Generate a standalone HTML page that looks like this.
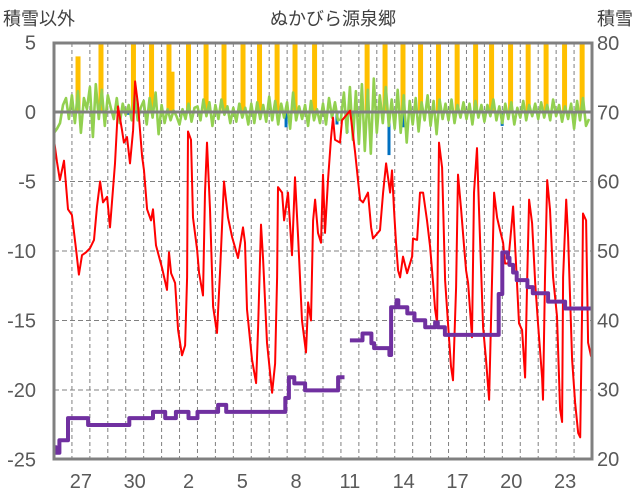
<!DOCTYPE html>
<html><head><meta charset="utf-8">
<style>
html,body{margin:0;padding:0;background:#fff;}
svg{display:block;font-family:"Liberation Sans","Noto Sans CJK JP",sans-serif;}
</style></head>
<body>
<svg id="chart" width="636" height="501" viewBox="0 0 636 501" xmlns="http://www.w3.org/2000/svg">
<text x="333" y="25" text-anchor="middle" font-size="18" fill="#404040">ぬかびら源泉郷</text>
<text x="3" y="25" font-size="18" fill="#404040">積雪以外</text>
<text x="633" y="25" text-anchor="end" font-size="18" fill="#404040">積雪</text>
<g id="grid"></g>
<g id="bars"></g>
<g id="lines"></g>
<g id="axes"></g>
</svg>
<script>
const leftTicks=[5,0,-5,-10,-15,-20,-25];
const rightTicks=[80,70,60,50,40,30,20];
const dayLabels=["27","30","2","5","8","11","14","17","20","23"];
const dayLabelPos=[1,4,7,10,13,16,19,22,25,28];
const redDay=[0,0.17,0.33,0.56,0.78,1.0,1.23,1.39,1.56,1.78,2.01,2.23,2.4,2.57,2.73,2.96,3.12,3.4,3.57,3.79,3.9,4.07,4.24,4.41,4.52,4.68,4.91,5.02,5.19,5.41,5.52,5.69,6.02,6.3,6.41,6.53,6.75,6.92,7.14,7.31,7.42,7.47,7.64,7.75,7.98,8.09,8.31,8.42,8.53,8.7,8.87,9.09,9.26,9.48,9.7,9.93,10.09,10.26,10.54,10.65,10.76,11.04,11.27,11.38,11.54,11.66,11.88,12.16,12.33,12.44,12.49,12.72,12.83,13.05,13.27,13.44,13.61,13.83,14.05,14.17,14.33,14.45,14.56,14.72,14.89,15.0,15.11,15.28,15.45,15.56,15.67,15.95,16.06,16.51,16.79,16.95,17.07,17.23,17.51,17.68,17.79,18.18,18.35,18.52,18.74,18.85,18.96,19.07,19.19,19.3,19.46,19.69,19.97,20.02,20.25,20.41,20.58,20.8,20.97,21.14,21.25,21.36,21.47,21.64,21.81,21.97,22.14,22.25,22.42,22.53,22.7,22.87,22.98,23.09,23.31,23.42,23.59,23.7,23.93,24.09,24.26,24.43,24.54,24.71,24.87,25.04,25.15,25.32,25.54,25.6,25.82,25.93,26.1,26.27,26.38,26.49,26.66,26.83,26.99,27.22,27.27,27.38,27.5,27.66,27.83,28.05,28.22,28.33,28.39,28.56,28.67,28.89,29.06,29.23,29.34,29.45,29.5,29.67,29.78,29.95];
const redVal=[-2.0,-3.6,-4.9,-3.5,-7.0,-7.4,-9.9,-11.7,-10.3,-10.1,-9.8,-9.2,-6.8,-5.0,-6.5,-6.1,-8.3,-3.7,0.4,-1.3,-2.2,-1.8,-3.7,-1.3,2.2,0.6,-3.2,-4.2,-7.0,-7.8,-7.0,-9.6,-11.2,-12.8,-10.1,-11.6,-12.3,-15.7,-17.5,-16.8,-11.9,-1.4,-2.0,-7.6,-9.9,-11.6,-13.2,-5.8,-2.2,-7.0,-14.0,-15.9,-11.4,-5.0,-7.6,-9.0,-9.7,-10.5,-8.3,-9.4,-14.2,-17.8,-19.5,-15.5,-8.1,-10.6,-16.6,-20.2,-18.1,-11.9,-5.4,-5.8,-7.8,-5.8,-10.3,-4.7,-9.0,-15.0,-17.3,-13.7,-15.0,-7.8,-6.3,-8.7,-9.4,-4.5,-8.7,-4.9,-1.8,-0.4,-2.0,-2.2,-0.6,0.1,-2.9,-4.9,-6.3,-6.5,-5.8,-8.3,-9.1,-8.5,-5.8,-3.7,-5.8,-4.2,-7.0,-9.4,-11.4,-11.9,-10.4,-11.6,-10.4,-9.1,-9.2,-5.8,-5.8,-7.8,-9.7,-12.3,-14.2,-15.2,-2.2,-4.0,-12.1,-15.2,-18.3,-19.3,-12.6,-4.5,-7.0,-9.7,-11.4,-12.3,-16.2,-5.8,-2.6,-7.0,-15.5,-17.8,-20.7,-11.9,-5.8,-7.6,-8.5,-9.4,-10.9,-10.9,-7.8,-6.8,-12.3,-15.2,-15.7,-19.1,-12.3,-6.3,-8.0,-12.3,-15.2,-19.1,-20.7,-11.9,-4.9,-7.0,-11.9,-14.7,-21.4,-22.3,-11.9,-6.3,-9.0,-17.8,-20.9,-23.1,-23.4,-14.2,-7.3,-7.8,-16.6,-17.6];
const greenVal=[-1.5,-1.2,-0.8,0.5,1.0,-0.5, 1.2,-0.8,1.5,-1.5,1.0,0.2, 1.8,-1.8,2.0,-0.5,1.6,-1.0, 1.2,0.3,-0.5,1.0,-0.8,0.6, -0.2,0.5,-0.6,1.2,-0.6,0.3, 0.8,-0.9,1.0,-0.4,1.4,-1.6, 0.5,-0.8,0.2,-0.6,0.1,-0.3, -0.9,0.2,-0.5,0.6,-0.7,0.3, 0.4,-0.6,0.9,-0.3,0.7,-1.0, 0.5,-0.5,0.9,-0.2,0.4,-0.8, 0.3,-0.7,0.6,-0.4,0.3,-0.9, 0.6,-0.8,0.7,-0.5,0.5,-0.7, 1.1,-0.6,0.8,-0.9,0.6,-0.4, 0.7,-1.2,1.4,-0.6,0.4,-0.5, 0.5,-1.0,0.8,-0.6,0.2,-0.8, 0.6,-0.9,1.0,-0.4,0.7,-0.6, -0.5,1.4,-1.5,1.8,-2.0,1.5, -2.3,2.0,-2.8,1.6,-3.0,2.4, -1.5,1.2,-0.8,1.8,-1.0,0.9, -1.2,1.6,-1.5,1.2,-2.2,0.8, -0.9,1.0,-1.4,0.7,-0.6,1.2, -1.0,0.8,-1.6,0.9,-0.5,0.6, -0.6,0.9,-0.8,0.5,-0.4,0.7, -0.5,0.6,-0.9,0.8,-0.4,0.5, -0.7,0.5,-0.3,0.9,-0.6,0.4, -0.8,0.6,-0.5,0.7,-0.9,0.3, -0.4,0.8,-0.6,0.5,-0.3,0.6, -0.5,0.7,-0.4,0.5,-0.6,0.9, -0.3,0.5,-0.7,0.4,-0.5,0.6, -1.2,0.8,-0.6,1.0,-1.0,-0.5];
const snowDay=[0,0.11,0.3,0.78,1.9,4.2,5.52,6.2,6.8,7.5,8.0,9.15,9.6,12.9,13.1,13.4,14.0,15.84,16.2,16.5,17.2,17.7,17.85,18.7,18.8,19.1,19.2,19.7,20.1,20.7,21.25,21.4,21.8,24.8,25.0,25.3,25.4,25.6,25.8,26.4,26.7,27.55,28.5,29.95];
const snowVal=[21.7,20.9,22.7,25.9,24.9,25.9,26.8,25.9,26.8,25.9,26.8,27.8,26.8,28.8,31.8,30.9,29.9,31.8,null,37.1,38.1,36.7,36.0,35.0,41.9,42.9,41.9,41.0,40.0,39.0,39.7,39.0,37.9,43.8,49.8,49.0,48.0,46.9,45.8,44.8,43.9,42.7,41.7,41.7];
const snowfallDay=[1.34,2.62,4.43,5.44,6.41,6.58,7.5,8.48,9.48,10.54,11.46,12.44,13.44,14.53,17.46,18.46,19.46,20.44,21.44,22.48,23.51,24.4,25.46,26.44,27.44,28.47,29.45];
const snowfallVal=[4.0,6,6,6,6,2.9,6,6,6,6,6,6,6,6,6,6,6,6,6,6,6,6,6,6,6,6,6];
const meltDay=[4.13,12.94,15.78,16.34,16.73,18.68,19.46,24.99];
const meltVal=[-0.2,-1.1,-0.9,-1.5,-0.5,-3.1,-1.1,-1.0];

const X0=54,X1=592,YT=43,YB=459;
function xOf(d){return X0+d*(X1-X0)/30;}
function yL(v){return 112-v*13.9;}
function yR(v){return YB-(v-20)*(YB-YT)/60;}
const NS="http://www.w3.org/2000/svg";
function mk(tag,attrs,parent){const e=document.createElementNS(NS,tag);for(const k in attrs)e.setAttribute(k,attrs[k]);parent.appendChild(e);return e;}
const grid=document.getElementById('grid'),bars=document.getElementById('bars'),lines=document.getElementById('lines'),axes=document.getElementById('axes');

for(let d=1;d<30;d++){
  const l=mk('line',{x1:xOf(d),x2:xOf(d),y1:YT,y2:YB,stroke:'#808080','stroke-width':1,'stroke-dasharray':'4,3'},grid);
  
  
}
leftTicks.forEach(v=>{
  if(v===5||v===-25||v===0)return;
  const l=mk('line',{x1:X0,x2:X1,y1:yL(v),y2:yL(v),stroke:'#808080','stroke-width':1,'stroke-dasharray':'5,3'},grid);
  
  
});

const bw=5;
snowfallDay.forEach((d,i)=>{
  const v=Math.min(snowfallVal[i],5);
  const r=mk('rect',{x:xOf(d)-bw/2,y:yL(v),width:bw,height:yL(0)-yL(v),fill:'#FFC000'},bars);
  
  
});
meltDay.forEach((d,i)=>{
  const r=mk('rect',{x:xOf(d)-1.5,y:yL(0),width:3,height:yL(meltVal[i])-yL(0),fill:'#0070C0'},bars);
  
  
});

let gp='';
greenVal.forEach((v,i)=>{gp+=(i?'L':'M')+xOf(i*30/greenVal.length).toFixed(1)+','+yL(v).toFixed(1);});
const g=mk('path',{d:gp,fill:'none',stroke:'#92D050','stroke-width':2.6,'stroke-linejoin':'round'},lines);



const z=mk('line',{x1:X0,x2:X1,y1:yL(0),y2:yL(0),stroke:'#808080','stroke-width':3},lines);



let rp='';
redDay.forEach((d,i)=>{rp+=(i?'L':'M')+xOf(d).toFixed(1)+','+yL(redVal[i]).toFixed(1);});
const r=mk('path',{d:rp,fill:'none',stroke:'#FF0000','stroke-width':2,'stroke-linejoin':'round'},lines);



let sp='',pen=false;
for(let i=0;i<snowDay.length;i++){
  const v=snowVal[i];
  if(v===null){pen=false;continue;}
  const x=xOf(snowDay[i]),y=yR(v);
  if(!pen){sp+='M'+x.toFixed(1)+','+y.toFixed(1);pen=true;}
  else sp+='V'+y.toFixed(1);
  const nx=(i+1<snowDay.length)?xOf(snowDay[i+1]):x;
  sp+='H'+nx.toFixed(1);
}
const s=mk('path',{d:sp,fill:'none',stroke:'#7030A0','stroke-width':4,'stroke-linejoin':'round'},lines);



const f=mk('rect',{x:X0,y:YT,width:X1-X0,height:YB-YT,fill:'none',stroke:'#808080','stroke-width':3},axes);



leftTicks.forEach(v=>{
  const t=mk('text',{x:36,y:yL(v)+7,'text-anchor':'end','font-size':20,fill:'#595959'},axes);
  t.textContent=String(v);
  
  
});
rightTicks.forEach(v=>{
  const t=mk('text',{x:597,y:yR(v)+7,'font-size':20,fill:'#595959'},axes);
  t.textContent=String(v);
  
  
});
dayLabels.forEach((lab,i)=>{
  const t=mk('text',{x:xOf(dayLabelPos[i]+0.5),y:488,'text-anchor':'middle','font-size':20,fill:'#595959'},axes);
  t.textContent=lab;
  
  
});
</script>
</body></html>
